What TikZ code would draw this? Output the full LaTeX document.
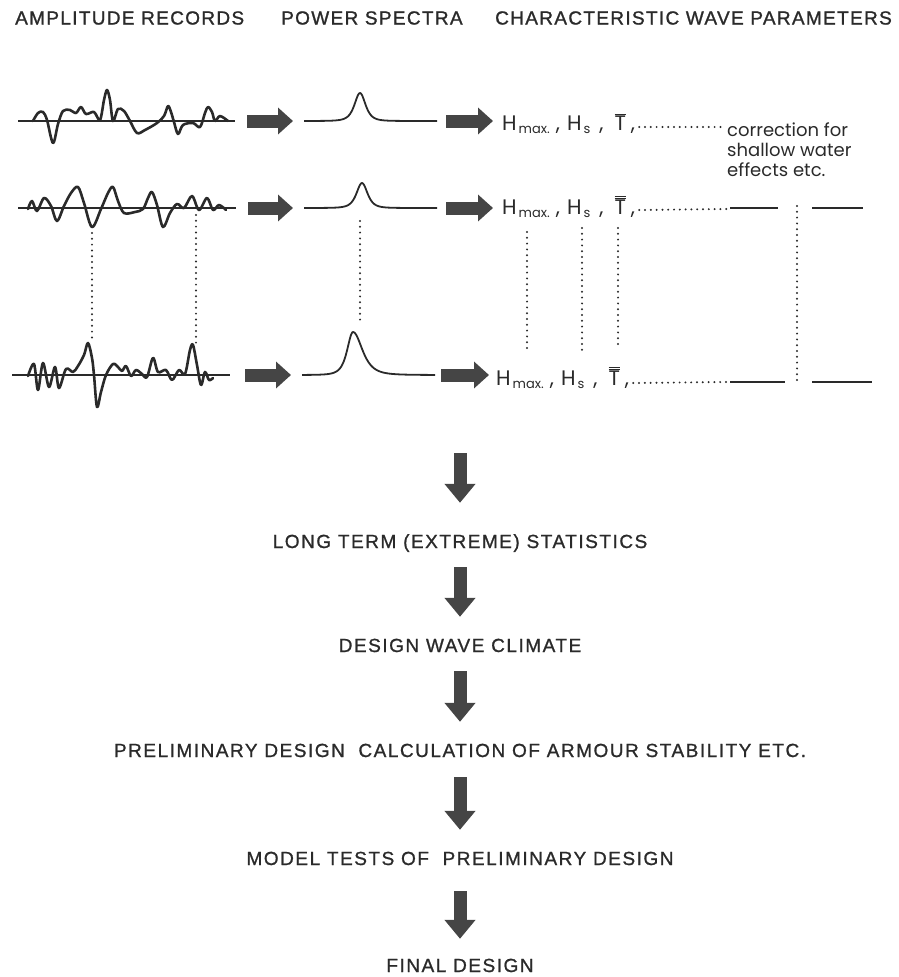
\documentclass[tikz,border=0pt]{standalone}
\usepackage{fontspec}
\usetikzlibrary{arrows.meta}
\setmainfont{Liberation Sans}
\newfontfamily\capsfont[LetterSpace=8,FakeBold=1]{Liberation Sans}
\newfontfamily\headfont[LetterSpace=7,FakeBold=1.2]{Liberation Sans}
\newfontfamily\paramfont{Poppins}
\definecolor{ink}{HTML}{2A2A2A}
\definecolor{arrowgray}{HTML}{454545}
% subscript for wave heights
\newcommand{\hsub}[1]{\hspace{2pt}\raisebox{-3.5pt}{\fontsize{13}{13}\selectfont #1}}
\newcommand{\sepa}{\hspace{6pt},\hspace{7pt}}
\newcommand{\sepb}{\hspace{9pt},\hspace{11pt}}
\newcommand{\sepc}{\hspace{5pt},}
\newcommand{\tbar}{$\overline{\mbox{T}}$}
\newcommand{\tbarbar}{$\overline{\overline{\mbox{T}}}$}
\begin{document}
\begin{tikzpicture}[x=1pt,y=-1pt,
  every node/.style={inner sep=0pt,text=ink},
  heading/.style={font=\headfont\fontsize{19}{19}\selectfont,anchor=west},
  stage/.style={font=\capsfont\fontsize{19}{19}\selectfont,text height=14pt,text depth=0pt},
  params/.style={font=\paramfont\fontsize{21}{21}\selectfont,anchor=base west},
  note/.style={font=\paramfont\fontsize{18}{20}\selectfont,anchor=base west,align=left},
  axisline/.style={draw=ink,line width=1.4pt},
  wave/.style={draw=ink,line width=2.6pt,line join=round,line cap=round},
  spec/.style={draw=ink,line width=1.8pt,line join=round},
  fatarrow/.style={draw=arrowgray,line width=13pt,-{Triangle[length=15pt,width=26pt]},shorten <=12pt,shorten >=11pt},
  downarrow/.style={draw=arrowgray,line width=13pt,-{Triangle[length=19pt,width=30pt]}},
  dotted line/.style={draw=ink,line width=2.2pt,dash pattern=on 0pt off 5.8pt,line cap=round},
  solidpart/.style={draw=ink,line width=1.5pt}]
\useasboundingbox (0,0) rectangle (898,977);

% column headings
\node[heading] (hamp) at (15,18) {AMPLITUDE RECORDS};
\node[heading] (hpow) at (281,18) {POWER SPECTRA};
\node[heading] (hchar) at (495,18) {CHARACTERISTIC WAVE PARAMETERS};

% ---------- amplitude records ----------
\coordinate (w1s) at (18,121);  \coordinate (w1e) at (235,121);
\coordinate (w2s) at (18,208);  \coordinate (w2e) at (236,208);
\coordinate (w3s) at (12,375);  \coordinate (w3e) at (230,375);
\draw[axisline] (w1s) -- (w1e);
\draw[axisline] (w2s) -- (w2e);
\draw[axisline] (w3s) -- (w3e);
\draw[wave] plot[smooth,tension=0.55] coordinates {(33,121) (38,113) (43,112) (47,120) (53,143) (58,124) (63,111) (70,110) (76,113) (81,107) (86,114) (94,112) (100,120) (104,100) (107,90) (110,100) (113,121) (118,109) (124,111) (130,121) (137,133) (145,130) (157,123) (164,116) (168,106) (171,112) (174,122) (178,134) (183,125) (193,123) (200,127) (205,113) (208,107) (212,112) (215,121) (220,116) (228,121)};
\draw[wave] plot[smooth,tension=0.55] coordinates {(28,209) (32,201) (37,211) (44,198) (51,206) (57,221) (64,206) (71,193) (78,187) (84,203) (92,227) (101,209) (108,193) (113,187) (118,201) (124,213) (135,212) (143,209) (148,198) (152,192) (157,205) (163,227) (170,213) (177,204) (184,208) (192,196) (199,210) (207,198) (213,210) (219,205) (226,210)};
\draw[wave] plot[smooth,tension=0.55] coordinates {(28,376) (34,364) (38,390) (43,363) (49,387) (55,367) (59,388) (66,369) (73,372) (78,366) (84,355) (88,343) (92,358) (94,375) (97,407) (101,392) (106,375) (113,364) (118,367) (122,371) (126,366) (131,376) (136,370) (142,374) (147,377) (153,358) (158,372) (166,370) (172,380) (179,370) (185,374) (190,350) (193,345) (197,365) (201,385) (205,372) (209,380) (213,378)};

% ---------- power spectra ----------
\coordinate (s1s) at (304,121); \coordinate (s1e) at (437,121);
\coordinate (s2s) at (304,208); \coordinate (s2e) at (437,208);
\coordinate (s3s) at (302,375); \coordinate (s3e) at (435,375);
\draw[spec] plot[domain=304:437,samples=160] (\x,{121-28/(1+((\x-360)/10)^2)^2});
\draw[spec] plot[domain=304:437,samples=160] (\x,{208-25/(1+((\x-362)/10)^2)^2});
\draw[spec] plot[domain=302:435,samples=160] (\x,{375-43/(1+((\x-353)/(\x<353?10.5:17))^2)^2});

% ---------- characteristic parameters ----------
\node[params] (p1) at (502,130) {H\hsub{max.}\sepa H\hsub{s}\sepb\tbar\sepc};
\node[params] (p2) at (502,214) {H\hsub{max.}\sepa H\hsub{s}\sepb\tbarbar\sepc};
\node[params] (p3) at (496,385) {H\hsub{max.}\sepa H\hsub{s}\sepb\tbarbar\sepc};
\node[note] (corr) at (727,176) {correction for\\shallow water\\effects etc.};

% horizontal flow arrows
\draw[fatarrow] (w1e) -- (s1s);
\draw[fatarrow] (w2e) -- (s2s);
\draw[fatarrow,shorten <=15pt] (w3e) -- (s3s);
\draw[fatarrow,shorten <=9pt,shorten >=9pt] (s1e) -- (p1.west |- s1e);
\draw[fatarrow,shorten <=9pt,shorten >=9pt] (s2e) -- (p2.west |- s2e);
\draw[fatarrow,shorten <=6pt,shorten >=7pt] (s3e) -- (p3.west |- s3e);

% continuation lines of the parameter rows
\coordinate (r1a) at (p1.base east); \coordinate (r1b) at (725,127);
\draw[dotted line] ([xshift=4pt,yshift=3pt]r1a) -- (r1b);
\coordinate (r2a) at (p2.base east); \coordinate (r2b) at (727,209);
\coordinate (r2c) at (730,208); \coordinate (r2d) at (778,208);
\coordinate (r2e) at (812,208); \coordinate (r2f) at (863,208);
\draw[dotted line] ([xshift=4pt,yshift=4pt]r2a) -- (r2b);
\draw[solidpart] (r2c) -- (r2d);
\draw[solidpart] (r2e) -- (r2f);
\coordinate (r3a) at (p3.base east); \coordinate (r3b) at (727,382);
\coordinate (r3c) at (730,382); \coordinate (r3d) at (785,382);
\coordinate (r3e) at (812,382); \coordinate (r3f) at (872,382);
\draw[dotted line] ([xshift=4pt,yshift=2pt]r3a) -- (r3b);
\draw[solidpart] (r3c) -- (r3d);
\draw[solidpart] (r3e) -- (r3f);

% vertical dotted links between the records
\coordinate (v1a) at (92,233);  \coordinate (v1b) at (92,338);
\coordinate (v2a) at (196,215); \coordinate (v2b) at (196,346);
\coordinate (v3a) at (360,221); \coordinate (v3b) at (360,322);
\coordinate (v4a) at (527,232); \coordinate (v4b) at (527,350);
\coordinate (v5a) at (582,228); \coordinate (v5b) at (582,355);
\coordinate (v6a) at (618,228); \coordinate (v6b) at (618,348);
\coordinate (v7a) at (797,206); \coordinate (v7b) at (797,384);
\foreach \i in {1,...,7} \draw[dotted line] (v\i a) -- (v\i b);

% ---------- design sequence ----------
\coordinate (top) at (460,453);
\node[stage] (t1) at (460,541) {LONG TERM (EXTREME) STATISTICS};
\node[stage] (t2) at (460,645) {DESIGN WAVE CLIMATE};
\node[stage] (t3) at (460,750) {PRELIMINARY DESIGN\ \ CALCULATION OF ARMOUR STABILITY ETC.};
\node[stage] (t4) at (460,858) {MODEL TESTS OF\ \ PRELIMINARY DESIGN};
\node[stage] (t5) at (460,965) {FINAL DESIGN};
\draw[downarrow] (top) -- ([yshift=31pt]t1.north);
\draw[downarrow,shorten <=19pt,shorten >=21pt] (t1.south) -- (t2.north);
\draw[downarrow,shorten <=19pt,shorten >=21pt] (t2.south) -- (t3.north);
\draw[downarrow,shorten <=20pt,shorten >=21pt] (t3.south) -- (t4.north);
\draw[downarrow,shorten <=26pt,shorten >=19pt] (t4.south) -- (t5.north);
\end{tikzpicture}
\end{document}
